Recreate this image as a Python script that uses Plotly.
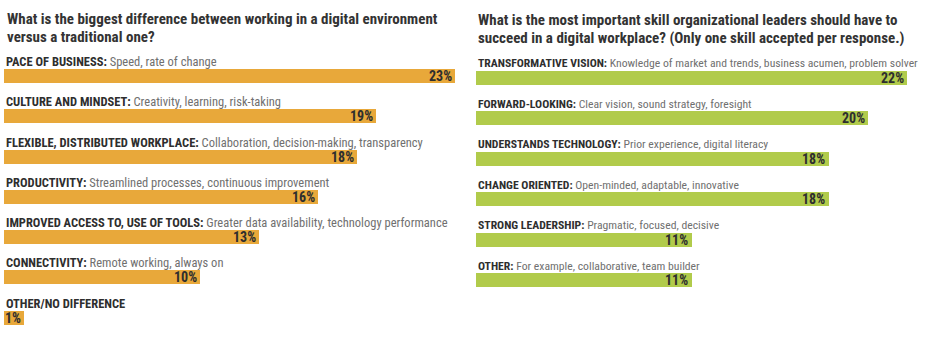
import plotly.graph_objects as go

W, H = 930, 340

# ---------------- data ----------------
left_title = ["What is the biggest difference between working in a digital environment",
              "versus a traditional one?"]
left_cats = ["PACE OF BUSINESS:", "CULTURE AND MINDSET:", "FLEXIBLE, DISTRIBUTED WORKPLACE:",
             "PRODUCTIVITY:", "IMPROVED ACCESS TO, USE OF TOOLS:", "CONNECTIVITY:",
             "OTHER/NO DIFFERENCE"]
left_desc = ["Speed, rate of change", "Creativity, learning, risk-taking",
             "Collaboration, decision-making, transparency",
             "Streamlined processes, continuous improvement",
             "Greater data availability, technology performance",
             "Remote working, always on", ""]
left_vals = [23, 19, 18, 16, 13, 10, 1]

right_title = ["What is the most important skill organizational leaders should have to",
               "succeed in a digital workplace? (Only one skill accepted per response.)"]
right_cats = ["TRANSFORMATIVE VISION:", "FORWARD-LOOKING:", "UNDERSTANDS TECHNOLOGY:",
              "CHANGE ORIENTED:", "STRONG LEADERSHIP:", "OTHER:"]
right_desc = ["Knowledge of market and trends, business acumen, problem solver",
              "Clear vision, sound strategy, foresight",
              "Prior experience, digital literacy",
              "Open-minded, adaptable, innovative",
              "Pragmatic, focused, decisive",
              "For example, collaborative, team builder"]
right_vals = [22, 20, 18, 18, 11, 11]

# ---------------- style ----------------
FONT = "Liberation Sans Narrow, Roboto Condensed, DejaVu Sans Condensed, Roboto, Arial, sans-serif"
ORANGE = "#E8A83A"
GREEN = "#B1CB4B"
DARK = "#2e2e2e"
GREY = "#707070"
PX_PER_PCT = 19.6

fig = go.Figure()

panels = [
    dict(cats=left_cats, desc=left_desc, vals=left_vals, title=left_title, color=ORANGE,
         xa="x", ya="y", x0=4, rmax=23.5, c0=76.0, step=40.25, tx=5, ty=[19, 37], lsize=12.5),
    dict(cats=right_cats, desc=right_desc, vals=right_vals, title=right_title, color=GREEN,
         xa="x2", ya="y2", x0=475.5, rmax=22.5, c0=77.5, step=40.5, tx=476, ty=[20, 38], lsize=11.7),
]

annotations = []
layout_axes = {}
for i, p in enumerate(panels):
    fig.add_trace(go.Bar(
        x=p["vals"], y=p["cats"], orientation="h", xaxis=p["xa"], yaxis=p["ya"],
        marker=dict(color=p["color"], line=dict(width=0)), width=14 / p["step"],
        hoverinfo="skip", showlegend=False))
    top = -p["c0"] / p["step"]
    bottom = top + H / p["step"]
    suffix = "" if i == 0 else str(i + 1)
    layout_axes["xaxis" + suffix] = dict(
        domain=[p["x0"] / W, (p["x0"] + p["rmax"] * PX_PER_PCT) / W],
        range=[0, p["rmax"]], visible=False, fixedrange=True,
        anchor=p["ya"])
    layout_axes["yaxis" + suffix] = dict(
        domain=[0, 1], range=[bottom, top], visible=False, fixedrange=True,
        anchor=p["xa"], type="category")
    for cat, d, v in zip(p["cats"], p["desc"], p["vals"]):
        txt = f"<b>{cat}</b>"
        if d:
            txt += f" <span style='color:{GREY}'>{d}</span>"
        annotations.append(dict(
            x=0, y=cat, xref=p["xa"], yref=p["ya"], xanchor="left", yanchor="middle",
            text=txt, showarrow=False, xshift=0, yshift=14.5,
            font=dict(family=FONT, size=p["lsize"], color=DARK)))
        annotations.append(dict(
            x=v, y=cat, xref=p["xa"], yref=p["ya"], xanchor="right", yanchor="middle",
            text=f"<b>{v}%</b>", showarrow=False, xshift=-1, yshift=0,
            font=dict(family=FONT, size=14, color=DARK)))
    for line, ty in zip(p["title"], p["ty"]):
        annotations.append(dict(
            x=p["tx"] / W, y=1 - ty / H, xref="paper", yref="paper",
            xanchor="left", yanchor="middle", text=f"<b>{line}</b>", showarrow=False,
            font=dict(family=FONT, size=15, color="#333333")))

fig.update_layout(
    width=W, height=H, margin=dict(l=0, r=0, t=0, b=0),
    paper_bgcolor="white", plot_bgcolor="white",
    bargap=0, annotations=annotations, **layout_axes)

fig.write_html("out.html", config={"displayModeBar": False})
